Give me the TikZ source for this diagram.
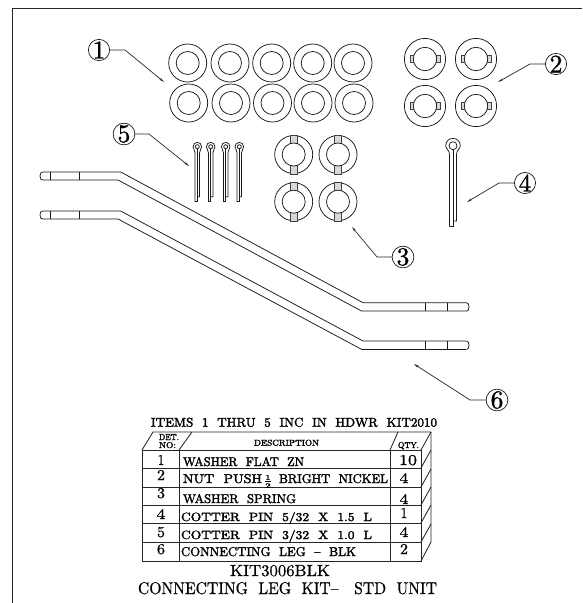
\documentclass[tikz,border=0pt]{standalone}
\usepackage{graphicx}
\usepackage{fontspec}
\newfontfamily\heavyfont{Latin Modern Roman}[FakeBold=2.2]
\newfontfamily\digfont{Latin Modern Roman}[FakeBold=1.2]
\newfontfamily\semifont{Latin Modern Roman}[FakeBold=0.7]
\usetikzlibrary{arrows.meta}
\tikzset{
  ln/.style={line width=0.75pt,draw=black!90},
  tbl/.style={line width=0.85pt,draw=black!85},
  leader/.style={line width=0.7pt,draw=black!85,-{Stealth[length=5pt,width=2.2pt]}},
  callout/.style={circle,draw=black!90,line width=0.7pt,minimum size=21pt,inner sep=0pt},
  txt/.style={inner sep=0pt,outer sep=0pt,anchor=base west},
  ctr/.style={inner sep=0pt,outer sep=0pt,anchor=base},
  barfill/.style={fill=black!15,draw=black!75,line width=0.6pt}
}
\newcommand{\fitb}[3]{\resizebox{#1pt}{#2pt}{\heavyfont #3}}
\newcommand{\fitr}[3]{\resizebox{#1pt}{#2pt}{\semifont #3}}
\newcommand{\dig}[1]{\resizebox{!}{17pt}{\digfont #1}}
\newcommand{\wash}[2]{\draw[ln] (#1,#2) circle[radius=19pt] (#1,#2) circle[radius=11.5pt];}
\newcommand{\nut}[2]{%
  \draw[ln] (#1,#2) circle[radius=20.6pt];
  \draw[barfill] (#1-14.8,#2-3.5) rectangle (#1-11,#2+3.5);
  \draw[barfill] (#1+11,#2-3.5) rectangle (#1+14.8,#2+3.5);
  \draw[ln,fill=white] (#1,#2) circle[radius=11.7pt];}
\newcommand{\spring}[2]{%
  \draw[ln] (#1,#2) circle[radius=19pt];
  \draw[barfill] (#1-3.5,#2-19.3) rectangle (#1+3.5,#2-10);
  \draw[barfill] (#1-3.5,#2+10) rectangle (#1+3.5,#2+19.3);
  \draw[ln,fill=white] (#1,#2) circle[radius=11.5pt];}
% x, y of head, outer r, inner r, half width, neck dy, short dy, long dy
\newcommand{\pin}[8]{%
  \begin{scope}[shift={(#1,#2)}]
  \draw[ln] (-#5,#8) -- (-#5,#6) .. controls (-#5,#6-0.45*#6) and (-#3,0.35*#6) .. (-#3,0)
    .. controls (-#3,-1.33*#3) and (#3,-1.33*#3) .. (#3,0)
    .. controls (#3,0.35*#6) and (#5,#6-0.45*#6) .. (#5,#6) -- (#5,#7) -- (0,#7);
  \draw[ln] (0,#4) -- (0,#8) -- (-#5,#8);
  \draw[ln] (0,0) circle[radius=#4 pt];
  \end{scope}}
\newcommand{\leg}[2]{%
  \draw[ln] (44,#1) -- (120.7,#1) -- (363,#2) -- (465,#2)
    .. controls (468.5,#2) and (469,#2+1.5) .. (469,#2+4.2)
    .. controls (469,#2+7) and (468.5,#2+8.4) .. (465,#2+8.4) -- (361.7,#2+8.4) -- (118,#1+8) -- (44,#1+8)
    .. controls (40.5,#1+8) and (40,#1+6.5) .. (40,#1+4)
    .. controls (40,#1+1.5) and (40.5,#1) .. (44,#1) -- cycle;
  \draw[ln] (50.7,#1) -- (50.7,#1+8) (79,#1) -- (79,#1+8);
  \draw[ln] (425,#2) -- (425,#2+8.4) (447,#2) -- (447,#2+8.4);}
\begin{document}
\begin{tikzpicture}[x=1pt,y=-1pt]
\useasboundingbox[fill=white] (0,0) rectangle (582,603);
% frame
\draw[line width=1pt,draw=black!85] (12,603) -- (12,8) -- (582,8);
% item 1
\foreach \x in {187.7,230,271.7,312.7,353}{\wash{\x}{63}}
\foreach \x in {188.7,231,272.5,313,354}{\wash{\x}{103}}
% item 2
\foreach \x in {425,476}{\nut{\x}{59}\nut{\x}{106}}
% item 3
\foreach \x in {293.7,338}{\spring{\x}{154.5}\spring{\x}{201.7}}
% item 4
\pin{453}{145.7}{7.3}{4}{3.5}{8.5}{75.3}{81}
% item 5
\foreach \x in {197.3,210.7,225.7,239.3}{\pin{\x}{146.7}{4.3}{2}{2.3}{6}{50}{55}}
% item 6
\leg{172}{302.7}
\leg{211}{341}
% callouts
\node[callout] (c1) at (99,50) {\dig{1}};
\node[callout] (c2) at (556,64) {\dig{2}};
\node[callout] (c3) at (403,257) {\dig{3}};
\node[callout] (c4) at (525,183) {\dig{4}};
\node[callout] (c5) at (124,134) {\dig{5}};
\node[callout] (c6) at (497,400) {\dig{6}};
\coordinate (b1) at (125,50);  \coordinate (e1) at (164,82);
\coordinate (b2) at (530,64);  \coordinate (e2) at (498,82);
\coordinate (b3) at (377,257); \coordinate (e3) at (352,227);
\coordinate (b4) at (499,183); \coordinate (e4) at (467,202);
\coordinate (b5) at (149,134); \coordinate (e5) at (189,166);
\coordinate (b6) at (470,400); \coordinate (e6) at (414,364);
\foreach \i in {1,...,6}{\draw[leader] (c\i) -- (b\i) -- (e\i);}
% table
\draw[tbl] (142,450) rectangle (421,561);
\foreach \y in {468,487,505,523,542}{\draw[tbl] (142,\y) -- (421,\y);}
\draw[tbl] (179,450) -- (179,561) (390,450) -- (390,561);
\draw[tbl] (142,450) -- (153,432) -- (431,432) -- (431,542) -- (421,561);
\draw[tbl] (179,450) -- (192,432) (390,450) -- (398,432) (421,450) -- (431,432);
\foreach \y in {468,487,505,523,542}{\draw[tbl] (421,\y) -- (431,\y-18);}
% texts
\node[txt] (title) at (151,426.7) {\fitb{286}{9}{ITEMS~~1~~THRU~~5~~INC~~IN~~HDWR~~KIT2010}};
\node[txt] (hdet) at (159,440) {\fitb{20}{6}{DET.}};
\node[txt] (hno) at (159,448) {\fitb{17}{6}{NO:}};
\node[txt] (hdesc) at (254,445.7) {\fitb{65}{6}{DESCRIPTION}};
\node[txt] (hqty) at (398,448) {\fitb{21}{6}{QTY.}};
\node[txt] (d1) at (183,466) {\fitb{121}{9}{WASHER~~FLAT~~ZN}};
\node[txt] (d2a) at (183,483) {\fitb{79}{9}{NUT~~PUSH}};
\node[inner sep=0pt] (d2f) at (268,481.5) {\fitb{5.5}{12.5}{\shortstack{1\\[-1pt]\rule{0.5em}{1pt}\\2}}};
\node[txt] (d2b) at (279,483) {\fitb{109}{9}{BRIGHT~~NICKEL}};
\node[txt] (d3) at (183,503) {\fitb{113}{9}{WASHER~~SPRING}};
\node[txt] (d4) at (181,521) {\fitb{191}{9}{COTTER~~PIN~~5/32~~X~~1.5~~L}};
\node[txt] (d5) at (181,539) {\fitb{191}{9}{COTTER~~PIN~~3/32~~X~~1.0~~L}};
\node[txt] (d6) at (181,556) {\fitb{175}{9}{CONNECTING~~LEG~~–~~BLK}};
\node[ctr] (n1) at (161,465) {\fitr{7}{10}{1}};
\node[ctr] (n2) at (161,480) {\fitr{8}{10}{2}};
\node[ctr] (n3) at (161,498) {\fitr{8}{10}{3}};
\node[ctr] (n4) at (161,519) {\fitr{9}{10}{4}};
\node[ctr] (n5) at (161,537) {\fitr{8}{10}{5}};
\node[ctr] (n6) at (161,554) {\fitr{8}{10}{6}};
\node[ctr] (q1) at (408,465) {\fitr{18}{10}{10}};
\node[ctr] (q2) at (404,483) {\fitr{9}{10}{4}};
\node[ctr] (q3) at (404,504) {\fitr{9}{10}{4}};
\node[ctr] (q4) at (404,518) {\fitr{7}{10}{1}};
\node[ctr] (q5) at (404,537) {\fitr{9}{10}{4}};
\node[ctr] (q6) at (404,554) {\fitr{8}{10}{2}};
\node[txt] (kit) at (230,576) {\fitr{100}{11}{KIT3006BLK}};
\node[txt] (name) at (138,594) {\fitr{299}{12}{CONNECTING~~LEG~~KIT–~~~STD~~UNIT}};
\end{tikzpicture}
\end{document}
